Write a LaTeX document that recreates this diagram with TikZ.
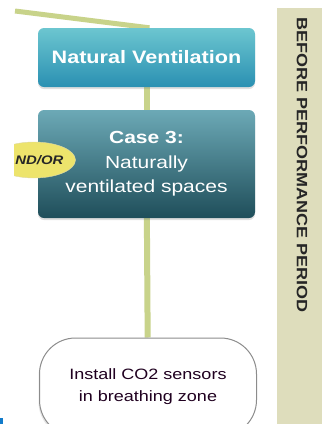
\documentclass[tikz,border=0pt]{standalone}
\usepackage{fontspec}
\setmainfont[FakeStretch=1.2]{Liberation Sans}
\usepackage{tikz}
\usetikzlibrary{shapes.geometric,shadows}
\definecolor{linkgreen}{HTML}{C8D38A}
\definecolor{bandbeige}{HTML}{DEDDBC}
\definecolor{nattop}{HTML}{6CC6D0}
\definecolor{natbottom}{HTML}{2A90B2}
\definecolor{casetop}{HTML}{6CA9B6}
\definecolor{casebottom}{HTML}{1F4E5A}
\definecolor{andoryellow}{HTML}{EDE46C}
\tikzstyle{link} = [linkgreen, line width=6pt]
\tikzstyle{casebox} = [rectangle, rounded corners=6pt, minimum width=217pt, align=center, text=white, drop shadow={opacity=0.25, shadow xshift=0pt, shadow yshift=-2pt}]
\tikzstyle{sensorbox} = [rectangle, rounded corners=36pt, draw=black!45, line width=1pt, fill=white, minimum width=217pt, minimum height=98pt, align=center, text=black!75!violet, drop shadow={opacity=0.2, shadow xshift=-1pt, shadow yshift=-2pt}]

\begin{document}
\begin{tikzpicture}[x=1pt, y=-1pt]
	\useasboundingbox (0,0) rectangle (322,424);
	\clip (0,0) rectangle (322,424);
	
	\fill[bandbeige] (277,8) rectangle (322,424);
	\node[rotate=-90, text=black!85, font=\fontsize{15}{18}\selectfont\bfseries] (period) at (302,165) {BEFORE PERFORMANCE PERIOD};
	
	\node[casebox, minimum height=59pt, top color=nattop, bottom color=natbottom, font=\fontsize{18}{22}\selectfont\bfseries] (natvent) at (146.5,57.5) {Natural Ventilation};
	\node[casebox, minimum height=108pt, top color=casetop, bottom color=casebottom, font=\fontsize{17.5}{24.5}\selectfont] (case3) at (146.5,164) {\textbf{Case 3:}\\Naturally\\ventilated spaces};
	\begin{scope}
		\clip (14,0) rectangle (322,424);
		\node[ellipse, fill=andoryellow, draw=yellow!60!black!40, minimum width=78pt, minimum height=36pt, inner sep=0pt, text=black!85, font=\fontsize{12.4}{14}\selectfont\bfseries\itshape] (andor) at (34,160) {AND/OR};
	\end{scope}
	\node[sensorbox, font=\fontsize{15}{22}\selectfont] (sensor) at (148,387) {Install CO2 sensors\\in breathing zone};
	
	\coordinate (upper) at (15,11);
	\fill[cyan!60!blue] (0,418) rectangle (3,424);
	
	\pgfdeclarelayer{background}
	\pgfsetlayers{background,main}
	
	\begin{pgfonlayer}{background}
		\draw[link, line width=5pt] (upper) -- ([xshift=3pt] natvent.north);
		\draw[link] (natvent) -- (case3);
		\draw[link] (case3) -- (sensor);
	\end{pgfonlayer}
\end{tikzpicture}
\end{document}
